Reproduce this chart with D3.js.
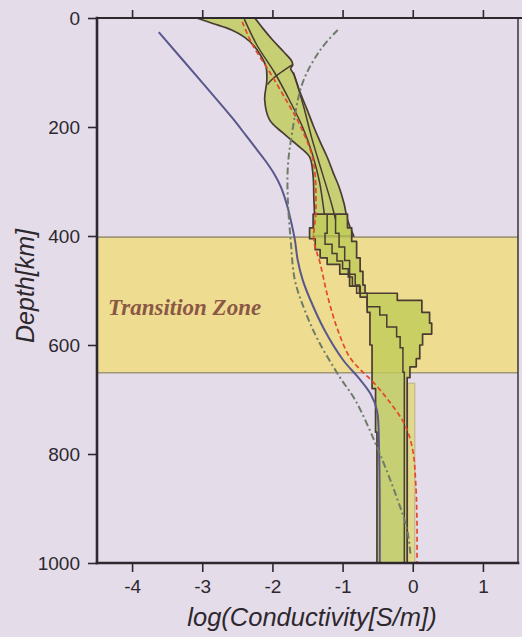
<!DOCTYPE html>
<html>
<head>
<meta charset="utf-8">
<script src="https://cdn.jsdelivr.net/npm/d3@7"></script>
<style>
  html, body { margin: 0; padding: 0; background: #e5dcea; }
  svg { display: block; }
</style>
</head>
<body>
<svg id="chart" width="522" height="637"></svg>
<script>
// ---- data: depth [km] vs log10 conductivity [S/m] ----
const depthTicks = [0, 200, 400, 600, 800, 1000];
const condTicks = [-4, -3, -2, -1, 0, 1];
const transitionZone = [402, 651];
const transitionLabel = "Transition Zone";

// upper-mantle envelope of the inverted models (depth, logσ)
const umLeft = [[0,-3.08],[10,-2.85],[22,-2.58],[35,-2.40],[50,-2.27],[68,-2.17],[90,-2.09],[115,-2.08],[150,-2.11],[187,-2.04],[211,-1.85],[237,-1.61],[255,-1.47],[290,-1.42],[330,-1.41],[370,-1.40],[400,-1.42]];
const umRight = [[0,-2.25],[20,-2.13],[40,-2.00],[62,-1.84],[78,-1.73],[86,-1.71],[93,-1.74],[102,-1.70],[138,-1.60],[170,-1.50],[200,-1.41],[230,-1.31],[255,-1.22],[285,-1.13],[310,-1.05],[340,-0.98],[370,-0.93],[400,-0.84]];
// individual model outlines inside the upper-mantle envelope
const umModelA = [[86,-1.72],[100,-1.88],[112,-2.00],[122,-2.07]];
const umModelB = [[2,-2.40],[50,-2.22],[100,-1.97],[150,-1.76],[200,-1.57],[250,-1.43],[300,-1.33],[360,-1.26]];
const umModelC = [[100,-1.70],[160,-1.56],[220,-1.44],[280,-1.30],[340,-1.16],[370,-1.10]];

// layered models through the transition zone and lower mantle (layer top depth, logσ)
const tzLeft = [[360,-1.42],[385,-1.47],[405,-1.39],[425,-1.32],[440,-1.22],[452,-1.04],[470,-0.90],[492,-0.75],[512,-0.65],[540,-0.61],[600,-0.58],[680,-0.53],[760,-0.51]];
const tzRight = [[360,-0.93],[385,-0.87],[410,-0.80],[440,-0.75],[465,-0.71],[490,-0.68],[505,-0.22],[518,0.13],[540,0.24],[560,0.27],[580,0.14],[600,0.10],[625,0.05],[640,-0.04],[660,-0.08]];
const tzModelMid = [[360,-1.22],[395,-1.25],[415,-1.15],[432,-1.08],[446,-1.00],[460,-0.92],[475,-0.86],[492,-0.80],[505,-0.65],[530,-0.47],[545,-0.37],[567,-0.23],[585,-0.18],[605,-0.14],[650,-0.12]];
const tzModelUpper = [[360,-1.10],[395,-1.05],[420,-0.97],[445,-0.90],[470,-0.82],[490,-0.76]];
const lmStripLeft = [[670,-0.07]];
const lmStripRight = [[670,0.03]];
const modelBottom = 1000;

// reference conductivity profiles
const profileBlue = [[26,-3.62],[114,-3.03],[182,-2.58],[215,-2.38],[240,-2.23],[262,-2.10],[285,-1.98],[310,-1.88],[340,-1.80],[370,-1.74],[407,-1.68],[444,-1.64],[480,-1.57],[517,-1.46],[572,-1.26],[628,-0.99],[659,-0.78],[690,-0.60],[720,-0.51],[793,-0.48],[1000,-0.47]];
const profileDashDot = [[22,-1.07],[59,-1.32],[119,-1.57],[211,-1.72],[273,-1.78],[334,-1.78],[407,-1.74],[481,-1.68],[536,-1.54],[591,-1.35],[659,-1.04],[701,-0.82],[787,-0.51],[879,-0.23],[939,-0.08],[989,-0.03]];
const profileRed = [[7,-2.43],[50,-2.28],[99,-2.04],[154,-1.79],[196,-1.61],[261,-1.42],[352,-1.38],[407,-1.41],[450,-1.32],[512,-1.21],[572,-1.07],[622,-0.90],[646,-0.74],[670,-0.55],[701,-0.35],[747,-0.11],[793,0.00],[848,0.04],[921,0.06],[1000,0.06]];

// ---- layout ----
const svg = d3.select("#chart");
const x = d3.scaleLinear().domain([-4.5, 1.5]).range([97, 518]);
const y = d3.scaleLinear().domain([0, 1000]).range([18, 563]);

const C = {
  bg: "#e5dcea", band: "#eedc91", bandEdge: "#9f9878",
  green: "#bfcc58", outline: "#4a3b33", axis: "#2d282e",
  blue: "#5a578c", dash: "#6d7d68", red: "#e4482a", label: "#8b5845"
};

svg.append("rect").attr("width", 522).attr("height", 637).attr("fill", C.bg);

svg.append("clipPath").attr("id", "plot")
  .append("rect")
  .attr("x", x(-4.5)).attr("y", y(0))
  .attr("width", x(1.5) - x(-4.5)).attr("height", y(1000) - y(0));

const plot = svg.append("g").attr("clip-path", "url(#plot)");

// transition zone band
plot.append("rect")
  .attr("x", x(-4.5)).attr("width", x(1.5) - x(-4.5))
  .attr("y", y(transitionZone[0])).attr("height", y(transitionZone[1]) - y(transitionZone[0]))
  .attr("fill", C.band);
transitionZone.forEach(d => {
  plot.append("line")
    .attr("x1", x(-4.5)).attr("x2", x(1.5))
    .attr("y1", y(d)).attr("y2", y(d))
    .attr("stroke", C.bandEdge).attr("stroke-width", 1.6);
});

// helpers
const smooth = d3.line().x(p => x(p[1])).y(p => y(p[0])).curve(d3.curveCatmullRom.alpha(0.5));
const straight = d3.line().x(p => x(p[1])).y(p => y(p[0]));

function layered(model, bottom) {
  const pts = [];
  model.forEach((l, i) => {
    const next = i + 1 < model.length ? model[i + 1][0] : bottom;
    pts.push([l[0], l[1]], [next, l[1]]);
  });
  return pts;
}
function envelope(left, right, gen) {
  const a = gen(left);
  const b = gen(right.slice().reverse());
  return a + "L" + b.slice(1) + "Z";
}

const envStyle = sel => sel
  .attr("fill", C.green).attr("fill-opacity", 0.8)
  .attr("stroke", C.outline).attr("stroke-width", 1.7)
  .attr("stroke-linejoin", "round");

// lower-mantle light strip
plot.append("path")
  .attr("d", envelope(layered(lmStripLeft, modelBottom), layered(lmStripRight, modelBottom), straight))
  .attr("fill", "#e0d98e").attr("stroke", "#b2a574").attr("stroke-width", 0.8);

// model envelopes
plot.append("path").attr("d", envelope(umLeft, umRight, smooth)).call(envStyle);
plot.append("path").attr("d", envelope(layered(tzLeft, modelBottom), layered(tzRight, modelBottom), straight)).call(envStyle);

// individual model outlines
const outlineStyle = sel => sel.attr("fill", "none").attr("stroke", C.outline).attr("stroke-width", 1.5);
[umModelA, umModelB, umModelC].forEach(m => plot.append("path").attr("d", smooth(m)).call(outlineStyle));
plot.append("path").attr("d", straight(layered(tzModelMid, modelBottom))).call(outlineStyle);
plot.append("path").attr("d", straight(layered(tzModelUpper, 505))).call(outlineStyle);

// reference profiles
plot.append("path").attr("d", smooth(profileBlue))
  .attr("fill", "none").attr("stroke", C.blue).attr("stroke-width", 2);
plot.append("path").attr("d", smooth(profileDashDot))
  .attr("fill", "none").attr("stroke", C.dash).attr("stroke-width", 2)
  .attr("stroke-dasharray", "7,3,2,3");
plot.append("path").attr("d", smooth(profileRed))
  .attr("fill", "none").attr("stroke", C.red).attr("stroke-width", 1.7)
  .attr("stroke-dasharray", "5,3");

// transition zone label
plot.append("text")
  .attr("x", 108).attr("y", 315)
  .attr("font-family", "'Liberation Serif', 'DejaVu Serif', serif")
  .attr("font-style", "italic").attr("font-weight", "bold")
  .attr("font-size", 23).attr("fill", C.label)
  .text(transitionLabel);

// ---- axes ----
const tickFont = sel => sel
  .attr("font-family", "'Liberation Sans', Arial, sans-serif")
  .attr("font-size", 19).attr("fill", C.axis);

const yAxis = svg.append("g").attr("transform", `translate(${x(-4.5)},0)`)
  .call(d3.axisLeft(y).tickValues(depthTicks).tickSize(9).tickSizeOuter(0).tickPadding(8).tickFormat(d => String(d)));
const xAxis = svg.append("g").attr("transform", `translate(0,${y(1000)})`)
  .call(d3.axisBottom(x).tickValues(condTicks).tickSize(9).tickSizeOuter(0).tickPadding(8).tickFormat(d => String(d)));
const xTop = svg.append("g").attr("transform", `translate(0,${y(0)})`)
  .call(d3.axisTop(x).tickValues(condTicks).tickSize(8).tickSizeOuter(0).tickFormat(""));

[yAxis, xAxis, xTop].forEach(g => {
  g.select(".domain").remove();
  g.selectAll(".tick line").attr("stroke", C.axis).attr("stroke-width", 1.6);
  g.selectAll(".tick text").call(tickFont);
});

// frame
const frame = [
  [x(-4.5), y(0), x(-4.5), y(1000), 2.6],
  [x(-4.5), y(1000), x(1.5), y(1000), 2.6],
  [x(-4.5), y(0), 522, y(0), 2.2],
  [x(1.5), y(0), x(1.5), y(1000), 1.4]
];
frame.forEach(f => svg.append("line")
  .attr("x1", f[0]).attr("y1", f[1]).attr("x2", f[2]).attr("y2", f[3])
  .attr("stroke", C.axis).attr("stroke-width", f[4]).attr("stroke-linecap", "square"));

// axis titles
svg.append("text")
  .attr("transform", `translate(25,286) rotate(-90)`)
  .attr("text-anchor", "middle").attr("dominant-baseline", "central")
  .attr("font-family", "'Liberation Sans', Arial, sans-serif")
  .attr("font-style", "italic").attr("font-size", 25).attr("fill", C.axis)
  .text("Depth[km]");
svg.append("text")
  .attr("x", 312).attr("y", 626)
  .attr("text-anchor", "middle")
  .attr("font-family", "'Liberation Sans', Arial, sans-serif")
  .attr("font-style", "italic").attr("font-size", 25.5).attr("fill", C.axis)
  .text("log(Conductivity[S/m])");
</script>
</body>
</html>
